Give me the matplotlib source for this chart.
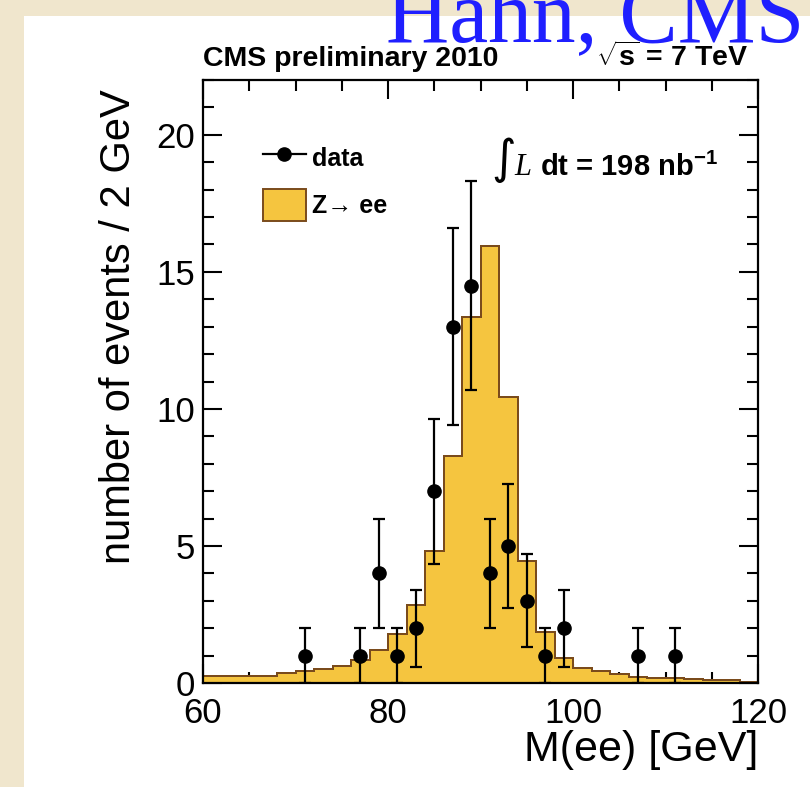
import matplotlib
matplotlib.use("Agg")
import matplotlib.pyplot as plt
from matplotlib.lines import Line2D
from matplotlib.patches import Patch, Rectangle
from matplotlib.ticker import MultipleLocator
import numpy as np

# Z -> ee invariant mass, 2 GeV bins between 60 and 120 GeV
bin_edges = np.arange(60, 122, 2)
mc_counts = [0.26, 0.26, 0.26, 0.26, 0.35, 0.45, 0.51, 0.63, 0.84, 1.20,
             1.78, 2.85, 4.83, 8.28, 13.36, 15.95, 10.43, 4.46, 1.85, 0.90,
             0.56, 0.44, 0.32, 0.23, 0.20, 0.17, 0.14, 0.12, 0.10, 0.03]

# observed events (bin centres) with their statistical errors
data_mass = [71, 77, 79, 81, 83, 85, 87, 89, 91, 93, 95, 97, 99, 107, 111]
data_counts = [1, 1, 4, 1, 2, 7, 13, 14.5, 4, 5, 3, 1, 2, 1, 1]
data_err = [1.0, 1.0, 2.0, 1.0, 1.4, 2.65, 3.6, 3.8, 2.0, 2.25, 1.7, 1.0, 1.4, 1.0, 1.0]

SANS = ["Liberation Sans", "DejaVu Sans"]
FILL = "#f5c53f"
EDGE = "#7a4b1c"

plt.rcParams["font.family"] = SANS
plt.rcParams["mathtext.fontset"] = "custom"
plt.rcParams["mathtext.rm"] = "Liberation Sans:bold"
plt.rcParams["mathtext.bf"] = "Liberation Sans:bold"
plt.rcParams["mathtext.it"] = "Liberation Sans:bold"

fig = plt.figure(figsize=(8.1, 7.87), dpi=100)
fig.patch.set_facecolor("#f0e6cd")
fig.add_artist(Rectangle((24 / 810, 0), 1, 1 - 16 / 787, transform=fig.transFigure,
                         facecolor="white", edgecolor="none", zorder=0))

ax = fig.add_axes([203 / 810, 1 - 683 / 787, 555 / 810, 603 / 787])

ax.stairs(mc_counts, bin_edges, fill=True, facecolor=FILL, edgecolor=EDGE,
          linewidth=1.4, zorder=2)
ax.stairs(mc_counts, bin_edges, fill=False, edgecolor=EDGE, linewidth=1.4, zorder=2)
ax.errorbar(data_mass, data_counts, yerr=data_err, fmt="o", color="black",
            markersize=9.5, elinewidth=1.6, capsize=4, capthick=1.6, zorder=4)

ax.set_xlim(60, 120)
ax.set_ylim(0, 22)
ax.xaxis.set_major_locator(MultipleLocator(20))
ax.xaxis.set_minor_locator(MultipleLocator(5))
ax.yaxis.set_major_locator(MultipleLocator(5))
ax.yaxis.set_minor_locator(MultipleLocator(1))
ax.tick_params(which="both", direction="in", top=True, right=True,
               width=1.5, colors="black", labelsize=25)
ax.tick_params(which="major", length=14)
ax.tick_params(which="minor", length=8)
ax.tick_params(axis="x", pad=10)
ax.tick_params(axis="y", pad=6)
for sp in ax.spines.values():
    sp.set_linewidth(1.6)

ax.set_xlabel("M(ee) [GeV]", fontsize=31, loc="right", labelpad=0)
ax.set_ylabel("number of events / 2 GeV", fontsize=30, loc="top")
ax.yaxis.set_label_coords(-0.115, 0.985)

# header line above the frame
ax.text(0.0, 1.024, "CMS preliminary 2010", transform=ax.transAxes,
        fontsize=20.5, fontweight="bold", ha="left", va="baseline")
ax.text(0.982, 1.024, r"$\sqrt{\mathrm{s}}$ = 7 TeV", transform=ax.transAxes,
        fontsize=20.5, fontweight="bold", ha="right", va="baseline")

# luminosity label
integral = ax.text(0.52, 0.845, "\u222B", transform=ax.transAxes, family=["DejaVu Sans"],
                   fontsize=34, ha="left", va="baseline")
lum_l = ax.annotate("L", xy=(0.6, 0), xycoords=integral, xytext=(6, 6),
                    textcoords="offset points", family="Liberation Serif",
                    style="italic", fontsize=22, va="baseline")
ax.annotate(r"dt = 198 nb$^{-1}$", xy=(1, 0), xycoords=lum_l, xytext=(6, 0),
            textcoords="offset points", fontweight="bold", fontsize=21, va="bottom")

handles = [Line2D([], [], color="black", marker="o", markersize=9.5, linewidth=1.6),
           Patch(facecolor=FILL, edgecolor=EDGE, linewidth=1.4)]
ax.legend(handles, ["data", "Z\u2192 ee"], loc="upper left",
          bbox_to_anchor=(0.108, 0.898), frameon=False, numpoints=1,
          prop={"weight": "bold", "size": 18},
          handlelength=1.72, handleheight=1.6, labelspacing=0.6,
          handletextpad=0.25, borderpad=0, borderaxespad=0)

fig.text(386 / 810, 1 - 41 / 787, "Hahn, CMS", family="Liberation Serif", fontsize=63,
         color="#1f1fff", ha="left", va="baseline", zorder=5)

fig.savefig("out.png", dpi=100)
